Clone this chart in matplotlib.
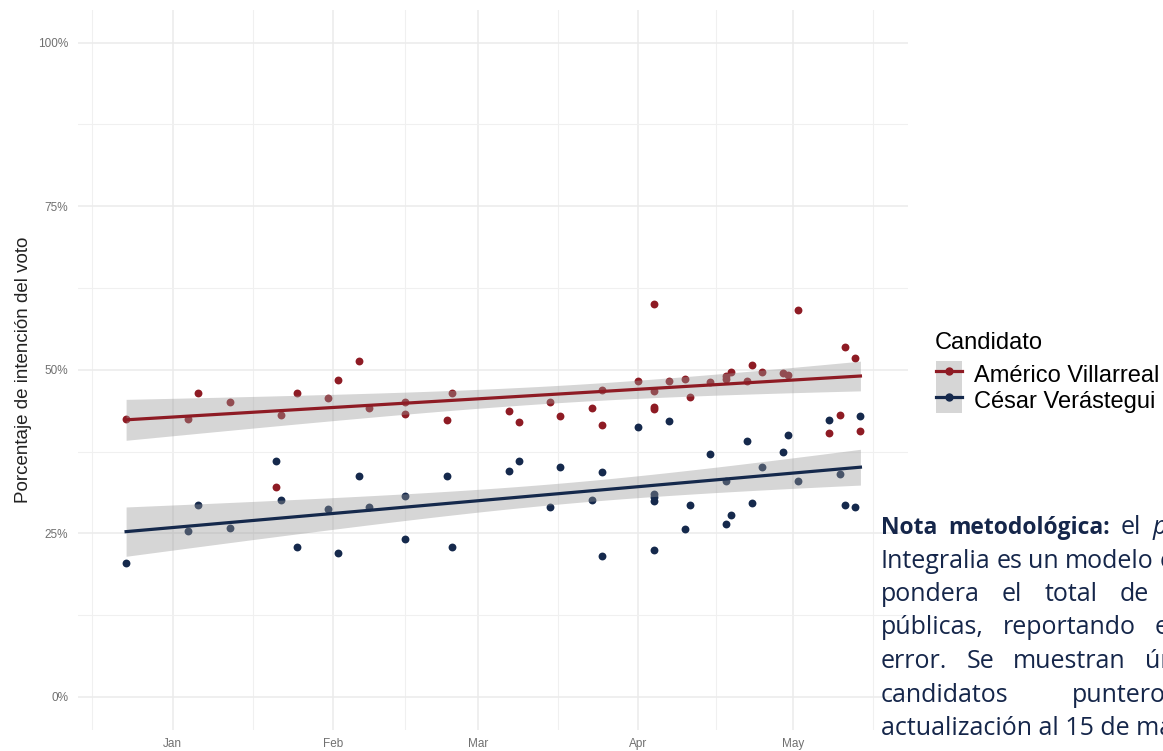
"""
Promedio de encuestas Tamaulipas: Américo Villarreal vs César Verástegui.
"""

import matplotlib
matplotlib.use('Agg')
import matplotlib.pyplot as plt
import matplotlib.dates as mdates
import numpy as np
from matplotlib.lines import Line2D
from matplotlib.patches import Patch
from matplotlib.legend_handler import HandlerTuple

plt.rcParams['font.family'] = ['Liberation Sans', 'DejaVu Sans']

# ── Datos ──
fechas = [
    "2021-12-23", "2022-01-04", "2022-01-06", "2022-01-12", "2022-01-21",
    "2022-01-22", "2022-01-25", "2022-01-31", "2022-02-02", "2022-02-06",
    "2022-02-08", "2022-02-15", "2022-02-15", "2022-02-23", "2022-02-24",
    "2022-03-07", "2022-03-09", "2022-03-15", "2022-03-17", "2022-03-23",
    "2022-03-25", "2022-03-25", "2022-04-01", "2022-04-04", "2022-04-04",
    "2022-04-04", "2022-04-04", "2022-04-07", "2022-04-10", "2022-04-11",
    "2022-04-15", "2022-04-18", "2022-04-18", "2022-04-19", "2022-04-22",
    "2022-04-23", "2022-04-25", "2022-04-29", "2022-04-30", "2022-05-02",
    "2022-05-08", "2022-05-10", "2022-05-11", "2022-05-13", "2022-05-14",
]
americo = [
    42.5, 42.5, 46.4, 45.1, 32.1, 43.1, 46.4, 45.7, 48.4, 51.4,
    44.1, 45.1, 43.2, 42.4, 46.4, 43.7, 42.0, 45.1, 43.0, 44.1,
    46.9, 41.5, 48.3, 60.1, 46.8, 44.3, 44.0, 48.3, 48.6, 45.9,
    48.1, 49.1, 48.6, 49.6, 48.3, 50.7, 49.7, 49.5, 49.2, 59.1,
    40.4, 43.1, 53.5, 51.8, 40.6,
]
cesar = [
    20.5, 25.4, 29.3, 25.9, 36.1, 30.1, 23.0, 28.8, 22.0, 33.7,
    29.1, 30.7, 24.1, 33.8, 23.0, 34.6, 36.1, 29.1, 35.2, 30.1,
    34.4, 21.5, 41.2, 31.1, 30.6, 30.0, 22.4, 42.2, 25.7, 29.3,
    37.1, 33.0, 26.5, 27.8, 39.1, 29.7, 35.1, 37.4, 40.1, 33.0,
    42.4, 34.1, 29.4, 29.0, 43.0,
]
candidatos = ["Américo Villarreal", "César Verástegui"]
colores = ["#8E1B24", "#15294C"]

y_ticks = [0, 25, 50, 75, 100]
y_labels = ["0%", "25%", "50%", "75%", "100%"]

# líneas de la nota: (palabras, separación entre palabras en px)
nota = [
    ([("Nota", "bold", "normal"), ("metodológica:", "bold", "normal"),
      ("el", "normal", "normal"), ("promedio", "normal", "italic"),
      ("de", "normal", "normal")], 11),
    ([("Integralia", "normal", "normal"), ("es", "normal", "normal"),
      ("un", "normal", "normal"), ("modelo", "normal", "normal"),
      ("estadístico", "normal", "normal"), ("que", "normal", "normal")], 6),
    ([("pondera", "normal", "normal"), ("el", "normal", "normal"),
      ("total", "normal", "normal"), ("de", "normal", "normal"),
      ("las", "normal", "normal"), ("encuestas", "normal", "normal")], 22),
    ([("públicas,", "normal", "normal"), ("reportando", "normal", "normal"),
      ("el", "normal", "normal"), ("margen", "normal", "normal"),
      ("de", "normal", "normal")], 19),
    ([("error.", "normal", "normal"), ("Se", "normal", "normal"),
      ("muestran", "normal", "normal"), ("únicamente", "normal", "normal"),
      ("a", "normal", "normal"), ("los", "normal", "normal")], 19),
    ([("candidatos", "normal", "normal"), ("punteros.", "normal", "normal"),
      ("Última", "normal", "normal")], 63),
    ([("actualización al 15 de mayo.", "normal", "normal")], 0),
]

W, H = 1163, 751
fig = plt.figure(figsize=(W / 100, H / 100), dpi=100)
ax = fig.add_axes([78 / W, 1 - 729.7 / H, (908 - 78) / W, (729.7 - 10) / H])

x = mdates.date2num(np.array(fechas, dtype="datetime64[D]"))

# puntos
for vals, col in zip([americo, cesar], colores):
    ax.scatter(x, vals, s=32, color=col, linewidths=0, zorder=2)

# ajuste lineal con banda de confianza (como geom_smooth lm)
xs = np.linspace(x.min(), x.max(), 100)
for vals, col in zip([americo, cesar], colores):
    yv = np.array(vals)
    b, a = np.polyfit(x, yv, 1)
    resid = yv - (a + b * x)
    n = len(x)
    s = np.sqrt(np.sum(resid ** 2) / (n - 2))
    sxx = np.sum((x - x.mean()) ** 2)
    se = s * np.sqrt(1 / n + (xs - x.mean()) ** 2 / sxx)
    fit = a + b * xs
    ax.fill_between(xs, fit - 2.017 * se, fit + 2.017 * se, color="#999999",
                    alpha=0.4, linewidth=0, zorder=3)
    ax.plot(xs, fit, color=col, linewidth=2.3, zorder=4)

# ejes
t0 = mdates.date2num(np.datetime64("2022-01-01"))
ax.set_xlim(t0 - 18.3, t0 + 142.2)
ax.set_ylim(-5, 105)
ax.set_yticks(y_ticks)
ax.set_yticklabels(y_labels)
ax.set_yticks([12.5, 37.5, 62.5, 87.5], minor=True)
ax.xaxis.set_major_locator(mdates.MonthLocator())
ax.xaxis.set_major_formatter(mdates.DateFormatter("%b"))
meses = mdates.date2num(np.array(["2021-12-01", "2022-01-01", "2022-02-01", "2022-03-01",
                                  "2022-04-01", "2022-05-01", "2022-06-01"], dtype="datetime64[D]"))
ax.set_xticks((meses[:-1] + meses[1:]) / 2, minor=True)
ax.grid(True, which="major", color="#EBEBEB", linewidth=1.1)
ax.grid(True, which="minor", color="#F0F0F0", linewidth=0.8)
ax.set_axisbelow(True)
for sp in ax.spines.values():
    sp.set_visible(False)
ax.tick_params(which="both", length=0, labelsize=8.5, colors="#707070", pad=7)
ax.tick_params(axis="x", pad=6)
ax.set_ylabel("Porcentaje de intención del voto", fontsize=13.5, color="#222222", labelpad=4)

# leyenda
fig.text(935 / W, 1 - 343 / H, "Candidato", fontsize=17, va="center", ha="left")
handles = [(Patch(facecolor="#999999", alpha=0.4, edgecolor="none"),
            Line2D([], [], color=c, linewidth=2.3, marker="o", markersize=5))
           for c in colores]
fig.legend(handles, candidatos, loc="upper left",
           bbox_to_anchor=(936 / W, 1 - 361 / H), frameon=False, fontsize=17,
           handlelength=1.1, handleheight=1.3, labelspacing=0,
           handletextpad=0.5, borderpad=0, borderaxespad=0,
           handler_map={tuple: HandlerTuple(ndivide=1, pad=0)})

# nota metodológica (texto justificado, se corta en el borde)
renderer = fig.canvas.get_renderer()
for i, (palabras, gap) in enumerate(nota):
    yb = 1 - (534 + i * 33.5) / H
    arts = [fig.text(0, yb, p, fontsize=16.5 if w == "bold" else 18,
                     family=["Open Sans", "DejaVu Sans"],
                     weight=w, style=st, color="#15264A", va="baseline", ha="left")
            for p, w, st in palabras]
    xp = 881
    for t in arts:
        t.set_x(xp / W)
        xp += t.get_window_extent(renderer).width + gap

fig.savefig("out.png", dpi=100)
